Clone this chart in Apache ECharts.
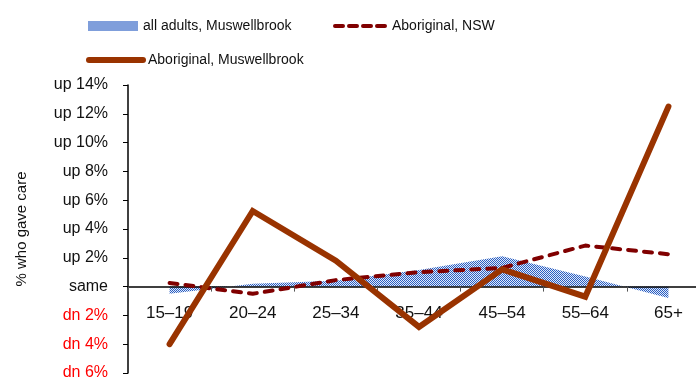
<!DOCTYPE html>
<html>
<head>
<meta charset="utf-8">
<script src="https://cdn.jsdelivr.net/npm/echarts@6/dist/echarts.min.js"></script>
<style>
html,body{margin:0;padding:0;background:#fff;}
#chart{width:696px;height:380px;}
</style>
</head>
<body>
<div id="chart"></div>
<script>
const ageGroups = ['15–19', '20–24', '25–34', '35–44', '45–54', '55–64', '65+'];
const allAdultsMuswellbrook = [-0.5, 0.2, 0.4, 1.15, 2.1, 0.7, -0.8];
const aboriginalNSW = [0.25, -0.5, 0.45, 1.0, 1.3, 2.85, 2.25];
const aboriginalMuswellbrook = [-4.0, 5.25, 1.8, -2.8, 1.2, -0.7, 12.5];
const yTickValues = [-6, -4, -2, 0, 2, 4, 6, 8, 10, 12, 14];
const yTickLabels = ['dn 6%', 'dn 4%', 'dn 2%', 'same', 'up 2%', 'up 4%', 'up 6%', 'up 8%', 'up 10%', 'up 12%', 'up 14%'];

function makePattern() {
  const c = document.createElement('canvas');
  c.width = 2; c.height = 2;
  const ctx = c.getContext('2d');
  ctx.fillStyle = '#e2eaf8';
  ctx.fillRect(0, 0, 2, 2);
  ctx.fillStyle = '#2a5ec2';
  ctx.fillRect(0, 0, 1, 1);
  ctx.fillRect(1, 1, 1, 1);
  return { image: c, repeat: 'repeat' };
}
const pattern = makePattern();

const sans = "'Liberation Sans', Arial, sans-serif";
const legendText = { fontFamily: sans, fontSize: 14, color: '#111' };

const gridTop = 85, gridBottom = 7, chartH = 380;
const yMin = yTickValues[0], yMax = yTickValues[yTickValues.length - 1];
const plotH = chartH - gridTop - gridBottom;
const zeroOffset = -plotH * (0 - yMin) / (yMax - yMin);

const chart = echarts.init(document.getElementById('chart'), null, { renderer: 'canvas' });
chart.setOption({
  animation: false,
  backgroundColor: '#ffffff',
  grid: { left: 128, right: -14, top: gridTop, bottom: gridBottom, containLabel: false, outerBoundsMode: 'none' },
  legend: [
    {
      data: [{ name: 'all adults, Muswellbrook', icon: 'rect', itemStyle: { color: '#7f9edb' } }],
      left: 83, top: 14, itemWidth: 50, itemHeight: 10, itemGap: 6,
      textStyle: legendText
    },
    {
      data: [{ name: 'Aboriginal, NSW', itemStyle: { opacity: 0 } }],
      left: 328, top: 14, itemWidth: 52, itemHeight: 12,
      lineStyle: { width: 4, type: [8, 6], cap: 'round', color: '#800000' },
      textStyle: legendText
    },
    {
      data: [{ name: 'Aboriginal, Muswellbrook', itemStyle: { opacity: 0 } }],
      left: 81, top: 48, itemWidth: 54, itemHeight: 12,
      lineStyle: { width: 6, cap: 'round', color: '#993300' },
      textStyle: legendText
    }
  ],
  xAxis: {
    type: 'category',
    data: ageGroups,
    boundaryGap: true,
    position: 'bottom',
    offset: zeroOffset,
    z: 2,
    axisLine: { onZero: false, lineStyle: { color: '#000', width: 1.5 } },
    axisTick: { show: true, alignWithLabel: false, length: 5, inside: false, lineStyle: { color: '#555', width: 1 } },
    axisLabel: { fontFamily: sans, fontSize: 17, color: '#111', margin: 18 },
    splitLine: { show: false }
  },
  yAxis: {
    type: 'value',
    min: yMin, max: yMax, interval: 2,
    name: '% who gave care',
    nameLocation: 'middle',
    nameRotate: 90,
    nameGap: 99,
    nameTextStyle: { fontFamily: sans, fontSize: 15, color: '#111' },
    axisLine: { show: true, lineStyle: { color: '#000', width: 1.5 } },
    axisTick: { show: true, length: 5, lineStyle: { color: '#000' } },
    splitLine: { show: false },
    axisLabel: {
      fontFamily: sans, fontSize: 16, margin: 20,
      formatter: function (v) { const i = yTickValues.indexOf(v); return i >= 0 ? yTickLabels[i] : ''; },
      color: function (v) { return Number(v) < 0 ? '#ff0000' : '#111'; }
    }
  },
  series: [
    {
      name: 'all adults, Muswellbrook',
      type: 'line',
      data: allAdultsMuswellbrook,
      symbol: 'none',
      z: 1,
      color: '#2a5ec2',
      lineStyle: { width: 0 },
      areaStyle: { color: pattern, opacity: 1, origin: 0 }
    },
    {
      name: 'Aboriginal, NSW',
      type: 'line',
      data: aboriginalNSW,
      symbol: 'none',
      z: 3,
      color: '#800000',
      lineStyle: { color: '#800000', width: 4, type: [8, 8], cap: 'round' }
    },
    {
      name: 'Aboriginal, Muswellbrook',
      type: 'line',
      data: aboriginalMuswellbrook,
      symbol: 'none',
      z: 4,
      color: '#993300',
      lineStyle: { color: '#993300', width: 6, cap: 'round', join: 'miter' }
    }
  ]
});
</script>
</body>
</html>
